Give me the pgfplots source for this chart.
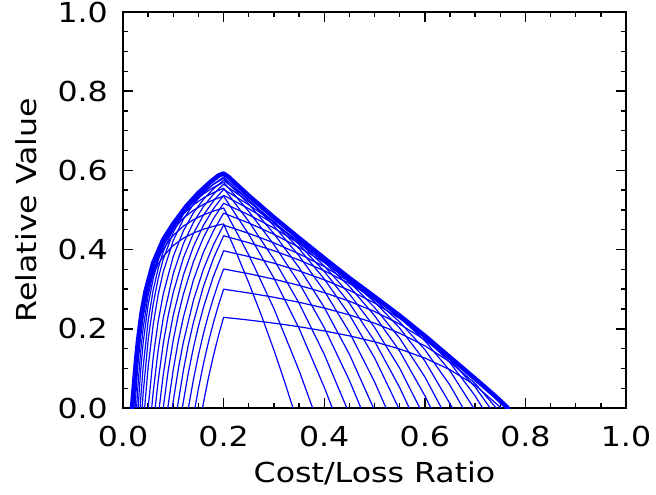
\documentclass[border=0pt]{standalone}
\usepackage{fontspec}
\setmainfont{DejaVu Sans}[FakeStretch=1.15]
\usepackage{pgfplots}
\pgfplotsset{compat=1.18}
\definecolor{idlblue}{RGB}{0,0,255}
\pgfplotsset{
  curve/.style={idlblue, line width=1.2bp, line join=round, mark=none},
  envelope/.style={idlblue, line width=4.6bp, line join=round, line cap=round, mark=none},
}
\begin{document}
\begin{tikzpicture}
% page frame: 656 x 495
\path (-123bp,-87bp) rectangle (533bp,408bp);
\begin{axis}[
  at={(0bp,0bp)}, anchor=south west,
  scale only axis, width=503bp, height=396bp,
  xmin=0, xmax=1, ymin=0, ymax=1,
  xtick={0,0.2,0.4,0.6,0.8,1}, xticklabels={0.0,0.2,0.4,0.6,0.8,1.0},
  ytick={0,0.2,0.4,0.6,0.8,1}, yticklabels={0.0,0.2,0.4,0.6,0.8,1.0},
  minor x tick num=3, minor y tick num=3,
  tick align=inside, tick pos=both,
  major tick length=10bp, minor tick length=5bp,
  axis line style={line width=1.6bp},
  every tick/.style={black, line width=1.4bp},
  tick label style={font=\fontsize{27.5bp}{30bp}\selectfont, inner sep=0pt},
  xticklabel style={anchor=north, yshift=-18bp},
  yticklabel style={anchor=east, xshift=-15bp},
  label style={font=\fontsize{27.5bp}{30bp}\selectfont, inner sep=0pt},
  xlabel={Cost/Loss Ratio}, ylabel={Relative Value},
  xlabel style={at={(axis description cs:0.5,-0.187)}, anchor=base},
  ylabel style={at={(axis description cs:-0.193,0.5)}, anchor=center},
]
% thin curves, one per probability threshold
\addplot[curve] coordinates {(0.021,0) (0.025,0.0831) (0.03,0.1559) (0.035,0.2078) (0.04,0.2468) (0.05,0.3014) (0.06,0.3377) (0.07,0.3637) (0.08,0.3832) (0.1,0.4105) (0.12,0.4287) (0.14,0.4417) (0.16,0.4514) (0.18,0.4589) (0.2,0.465) (0.225,0.3931) (0.25,0.3163) (0.275,0.2343) (0.3,0.1464) (0.32,0.0714) (0.338,0)};
\addplot[curve] coordinates {(0.024,0) (0.025,0.0230) (0.03,0.1148) (0.035,0.1804) (0.04,0.2296) (0.05,0.2984) (0.06,0.3443) (0.07,0.3771) (0.08,0.4017) (0.1,0.4361) (0.12,0.4591) (0.14,0.4755) (0.16,0.4878) (0.18,0.4974) (0.2,0.505) (0.25,0.3865) (0.3,0.2511) (0.35,0.0948) (0.377,0)};
\addplot[curve] coordinates {(0.027,0) (0.03,0.0619) (0.035,0.1414) (0.04,0.2010) (0.05,0.2845) (0.06,0.3402) (0.07,0.3799) (0.08,0.4097) (0.1,0.4515) (0.12,0.4793) (0.14,0.4992) (0.16,0.5141) (0.18,0.5257) (0.2,0.535) (0.25,0.4386) (0.3,0.3284) (0.35,0.2012) (0.4,0.0528) (0.416,0)};
\addplot[curve] coordinates {(0.030,0) (0.035,0.0933) (0.04,0.1632) (0.05,0.2612) (0.06,0.3265) (0.07,0.3731) (0.08,0.4081) (0.1,0.4571) (0.12,0.4897) (0.14,0.5130) (0.16,0.5305) (0.18,0.5441) (0.2,0.555) (0.25,0.4712) (0.3,0.3754) (0.35,0.2649) (0.4,0.1359) (0.445,0)};
\addplot[curve] coordinates {(0.034,0) (0.035,0.0196) (0.04,0.1030) (0.05,0.2198) (0.06,0.2976) (0.07,0.3532) (0.08,0.3949) (0.1,0.4532) (0.12,0.4922) (0.14,0.5200) (0.16,0.5408) (0.18,0.5570) (0.2,0.570) (0.25,0.4966) (0.3,0.4128) (0.35,0.3161) (0.4,0.2032) (0.45,0.0698) (0.473,0)};
\addplot[curve] coordinates {(0.038,0) (0.04,0.0358) (0.05,0.1719) (0.06,0.2626) (0.07,0.3273) (0.08,0.3759) (0.1,0.4440) (0.12,0.4893) (0.14,0.5217) (0.16,0.5460) (0.18,0.5649) (0.2,0.580) (0.25,0.5149) (0.3,0.4404) (0.35,0.3545) (0.4,0.2543) (0.45,0.1359) (0.498,0)};
\addplot[curve] coordinates {(0.043,0) (0.05,0.1040) (0.06,0.2104) (0.07,0.2865) (0.08,0.3435) (0.1,0.4233) (0.12,0.4765) (0.14,0.5146) (0.16,0.5431) (0.18,0.5653) (0.2,0.583) (0.25,0.5256) (0.3,0.4600) (0.35,0.3843) (0.4,0.2960) (0.45,0.1917) (0.5,0.0664) (0.523,0)};
\addplot[curve] coordinates {(0.050,0) (0.06,0.1278) (0.07,0.2190) (0.08,0.2875) (0.1,0.3833) (0.12,0.4472) (0.14,0.4929) (0.16,0.5271) (0.18,0.5537) (0.2,0.575) (0.25,0.5252) (0.3,0.4683) (0.35,0.4026) (0.4,0.3260) (0.45,0.2355) (0.5,0.1269) (0.548,0)};
\addplot[curve] coordinates {(0.057,0) (0.06,0.0395) (0.07,0.1467) (0.08,0.2272) (0.1,0.3398) (0.12,0.4149) (0.14,0.4685) (0.16,0.5087) (0.18,0.5400) (0.2,0.565) (0.25,0.5210) (0.3,0.4707) (0.35,0.4127) (0.4,0.3450) (0.45,0.2650) (0.5,0.1690) (0.55,0.0517) (0.569,0)};
\addplot[curve] coordinates {(0.064,0) (0.07,0.0696) (0.08,0.1624) (0.09,0.2345) (0.1,0.2922) (0.12,0.3788) (0.14,0.4407) (0.16,0.4871) (0.18,0.5231) (0.2,0.552) (0.25,0.5133) (0.3,0.4691) (0.35,0.4181) (0.4,0.3586) (0.45,0.2882) (0.5,0.2038) (0.55,0.1006) (0.59,0)};
\addplot[curve] coordinates {(0.072,0) (0.08,0.0839) (0.09,0.1678) (0.1,0.2349) (0.12,0.3356) (0.14,0.4075) (0.16,0.4615) (0.18,0.5034) (0.2,0.537) (0.25,0.5033) (0.3,0.4647) (0.35,0.4203) (0.4,0.3684) (0.45,0.3071) (0.5,0.2336) (0.55,0.1437) (0.6,0.0313) (0.612,0)};
\addplot[curve] coordinates {(0.080,0) (0.09,0.0957) (0.1,0.1723) (0.11,0.2350) (0.12,0.2872) (0.14,0.3693) (0.16,0.4308) (0.18,0.4787) (0.2,0.517) (0.25,0.4878) (0.3,0.4544) (0.35,0.4159) (0.4,0.3709) (0.45,0.3178) (0.5,0.2541) (0.55,0.1762) (0.6,0.0788) (0.633,0)};
\addplot[curve] coordinates {(0.089,0) (0.1,0.0975) (0.11,0.1692) (0.12,0.2290) (0.14,0.3229) (0.16,0.3934) (0.18,0.4481) (0.2,0.492) (0.25,0.4672) (0.3,0.4387) (0.35,0.4059) (0.4,0.3677) (0.45,0.3224) (0.5,0.2682) (0.55,0.2019) (0.6,0.1190) (0.655,0)};
\addplot[curve] coordinates {(0.098,0) (0.1,0.0181) (0.11,0.0988) (0.12,0.1661) (0.14,0.2718) (0.16,0.3510) (0.18,0.4126) (0.2,0.462) (0.25,0.4410) (0.3,0.4171) (0.35,0.3894) (0.4,0.3572) (0.45,0.3191) (0.5,0.2733) (0.55,0.2174) (0.6,0.1475) (0.65,0.0577) (0.676,0)};
\addplot[curve] coordinates {(0.108,0) (0.12,0.0946) (0.13,0.1600) (0.14,0.2161) (0.16,0.3073) (0.18,0.3782) (0.2,0.435) (0.25,0.4173) (0.3,0.3971) (0.35,0.3738) (0.4,0.3466) (0.45,0.3145) (0.5,0.2759) (0.55,0.2287) (0.6,0.1698) (0.65,0.0940) (0.697,0)};
\addplot[curve] coordinates {(0.118,0) (0.12,0.0162) (0.13,0.0894) (0.14,0.1522) (0.15,0.2065) (0.16,0.2542) (0.18,0.3335) (0.2,0.397) (0.25,0.3824) (0.3,0.3656) (0.35,0.3463) (0.4,0.3238) (0.45,0.2971) (0.5,0.2652) (0.55,0.2261) (0.6,0.1773) (0.65,0.1145) (0.7,0.0308) (0.715,0)};
\addplot[curve] coordinates {(0.130,0) (0.14,0.0716) (0.15,0.1337) (0.16,0.1880) (0.17,0.2360) (0.18,0.2785) (0.19,0.3167) (0.2,0.351) (0.25,0.3391) (0.3,0.3254) (0.35,0.3097) (0.4,0.2914) (0.45,0.2697) (0.5,0.2437) (0.55,0.2119) (0.6,0.1722) (0.65,0.1211) (0.7,0.0530) (0.73,0)};
\addplot[curve] coordinates {(0.143,0) (0.15,0.0491) (0.16,0.1118) (0.17,0.1672) (0.18,0.2163) (0.19,0.2604) (0.2,0.300) (0.25,0.2905) (0.3,0.2796) (0.35,0.2670) (0.4,0.2524) (0.45,0.2351) (0.5,0.2143) (0.55,0.1889) (0.6,0.1572) (0.65,0.1164) (0.7,0.0620) (0.742,0)};
\addplot[curve] coordinates {(0.158,0) (0.16,0.0136) (0.17,0.0770) (0.18,0.1332) (0.19,0.1837) (0.2,0.229) (0.25,0.2221) (0.3,0.2143) (0.35,0.2053) (0.4,0.1947) (0.45,0.1822) (0.5,0.1673) (0.55,0.1490) (0.6,0.1261) (0.65,0.0967) (0.7,0.0575) (0.752,0)};
% envelope
\addplot[envelope] coordinates {(0.018,0) (0.022,0.06) (0.026,0.12) (0.03,0.17) (0.037,0.24) (0.045,0.295) (0.06,0.366) (0.08,0.425) (0.1,0.465) (0.125,0.508) (0.15,0.543) (0.175,0.572) (0.19,0.587) (0.2,0.592) (0.21,0.583) (0.25,0.536) (0.3,0.481) (0.35,0.429) (0.4,0.378) (0.45,0.328) (0.5,0.281) (0.55,0.233) (0.6,0.182) (0.65,0.128) (0.7,0.074) (0.74,0.03) (0.765,0)};
\end{axis}
\end{tikzpicture}
\end{document}
